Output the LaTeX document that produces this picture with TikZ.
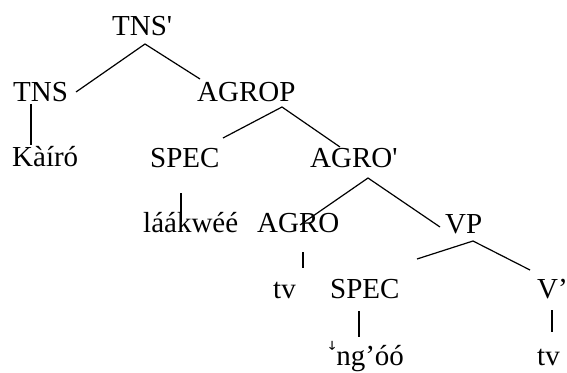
\documentclass[tikz,border=0pt]{standalone}
\usepackage{fontspec}
\setmainfont{Liberation Serif}
\newfontfamily\tonefont{DejaVu Sans}
\newcommand{\sq}{\textquotesingle}
\begin{document}
\begin{tikzpicture}[x=1pt,y=-1pt,
  lbl/.style={anchor=base west,inner sep=0pt,font=\fontsize{29}{34}\selectfont},
  branch/.style={line width=1.2pt,black}]
\useasboundingbox (0,0) rectangle (567,372);
% labels
\node[lbl] (tnsbar) at (112,35) {TNS\sq};
\node[lbl] (tns) at (13,101) {TNS};
\node[lbl] (agrop) at (197,101) {AGROP};
\node[lbl] (kairo) at (12,166) {Kàíró};
\node[lbl] (spec1) at (150,167) {SPEC};
\node[lbl] (agrobar) at (310,167) {AGRO\sq};
\node[lbl] (laakwee) at (143,232) {láákwéé};
\node[lbl] (agro) at (257,232) {AGRO};
\node[lbl] (vp) at (445,233) {VP};
\node[lbl] (tv1) at (273,298) {tv};
\node[lbl] (spec2) at (330,298) {SPEC};
\node[lbl] (vbar) at (537,298) {V’};
\node[lbl] (ngoo) at (328,365) {\raisebox{0.55ex}{\tonefont\fontsize{22}{22}\selectfont ꜜ}ng’óó};
\node[lbl] (tv2) at (537,365) {tv};
% branch points
\coordinate (a1) at (145,44);  \coordinate (a1l) at (76,92);   \coordinate (a1r) at (200,79);
\coordinate (a2) at (282,107); \coordinate (a2l) at (223,138); \coordinate (a2r) at (340,147);
\coordinate (a3) at (368,178); \coordinate (a3l) at (300,225); \coordinate (a3r) at (440,227);
\coordinate (a4) at (473,241); \coordinate (a4l) at (417,259); \coordinate (a4r) at (530,270);
\coordinate (v1t) at (31,104);  \coordinate (v1b) at (31,145);
\coordinate (v2t) at (181,193); \coordinate (v2b) at (181,222);
\coordinate (v3t) at (303,252); \coordinate (v3b) at (303,268);
\coordinate (v4t) at (359,311); \coordinate (v4b) at (359,337);
\coordinate (v5t) at (552,310); \coordinate (v5b) at (552,332);
% branches
\draw[branch] (a1l) -- (a1) -- (a1r);
\draw[branch] (a2l) -- (a2) -- (a2r);
\draw[branch] (a3l) -- (a3) -- (a3r);
\draw[branch] (a4l) -- (a4) -- (a4r);
\draw[branch] (v1t) -- (v1b);
\draw[branch] (v2t) -- (v2b);
\draw[branch] (v3t) -- (v3b);
\draw[branch] (v4t) -- (v4b);
\draw[branch] (v5t) -- (v5b);
\end{tikzpicture}
\end{document}
